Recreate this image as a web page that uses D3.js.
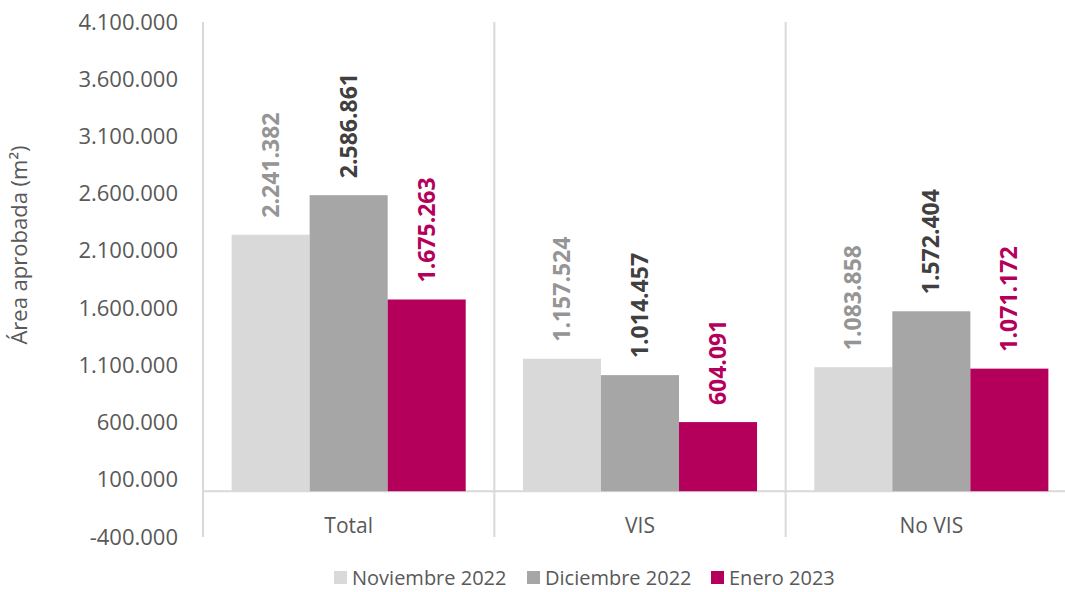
<!DOCTYPE html>
<html><head><meta charset="utf-8">
<script src="https://cdn.jsdelivr.net/npm/d3@7"></script>
<style>body{margin:0;background:#fff;} svg{display:block;}</style>
</head><body>
<svg id="chart" width="1065" height="592"></svg>
<script>
const categories = ["Total", "VIS", "No VIS"];
const seriesNames = ["Noviembre 2022", "Diciembre 2022", "Enero 2023"];
const noviembre2022 = [2241382, 1157524, 1083858];
const diciembre2022 = [2586861, 1014457, 1572404];
const enero2023 = [1675263, 604091, 1071172];
const yTicks = [-400000, 100000, 600000, 1100000, 1600000, 2100000, 2600000, 3100000, 3600000, 4100000];
const yTitle = "Área aprobada (m²)";

const seriesValues = [noviembre2022, diciembre2022, enero2023];
const barColors = ["#d9d9d9", "#a6a6a6", "#b5005b"];
const labelColors = ["#959595", "#404040", "#b5005b"];

const svg = d3.select("#chart");
const font = "'Open Sans', sans-serif";
const fmt = v => d3.format(",")(v).replace(/,/g, ".").replace("\u2212", "-");

const x0 = d3.scaleBand().domain(categories).range([203, 1077]).paddingInner(0).paddingOuter(0);
const x1 = d3.scaleBand().domain(seriesNames).range([0, x0.bandwidth()]).paddingInner(0).paddingOuter(0.367);
const y = d3.scaleLinear().domain([-400000, 4100000]).range([537, 22]);

// vertical separators
const seps = [203, ...categories.slice(1).map(c => x0(c))];
svg.selectAll("line.sep").data(seps).join("line")
  .attr("x1", d => d).attr("x2", d => d).attr("y1", y(4100000)).attr("y2", y(-400000))
  .attr("stroke", "#d9d9d9").attr("stroke-width", 2);

// baseline
svg.append("line").attr("x1", 203).attr("x2", 1077).attr("y1", y(0)).attr("y2", y(0))
  .attr("stroke", "#d9d9d9").attr("stroke-width", 2);

// y axis labels
const yAxis = d3.axisLeft(y).tickValues(yTicks).tickFormat(fmt).tickSize(0).tickPadding(0);
const ga = svg.append("g").attr("transform", "translate(178,0)").call(yAxis);
ga.select(".domain").remove();
ga.selectAll("text").attr("font-family", font).attr("font-size", 22).attr("fill", "#595959");

// bars
const data = [];
categories.forEach((c, i) => seriesNames.forEach((s, j) => data.push({c, s, j, v: seriesValues[j][i]})));
svg.selectAll("rect.bar").data(data).join("rect")
  .attr("x", d => x0(d.c) + x1(d.s)).attr("width", x1.bandwidth())
  .attr("y", d => y(d.v)).attr("height", d => y(0) - y(d.v))
  .attr("fill", d => barColors[d.j]);

// value labels
svg.selectAll("text.val").data(data).join("text")
  .attr("transform", d => `translate(${x0(d.c) + x1(d.s) + x1.bandwidth()/2 + 8},${y(d.v) - 17}) rotate(-90)`)
  .attr("font-family", font).attr("font-size", 23).attr("font-weight", "bold")
  .attr("fill", d => labelColors[d.j]).text(d => fmt(d.v));

// category labels
svg.selectAll("text.cat").data(categories).join("text")
  .attr("x", d => x0(d) + x0.bandwidth()/2).attr("y", 533)
  .attr("text-anchor", "middle").attr("font-family", font).attr("font-size", 21)
  .attr("fill", "#595959").text(d => d);

// y title
svg.append("text").attr("transform", "translate(27,245) rotate(-90)")
  .attr("text-anchor", "middle").attr("font-family", font).attr("font-size", 22)
  .attr("fill", "#595959").text(yTitle);

// legend
const legX = [334, 527, 711];
const lg = svg.selectAll("g.leg").data(seriesNames).join("g")
  .attr("transform", (d, i) => `translate(${legX[i]},571)`);
lg.append("rect").attr("width", 13).attr("height", 13).attr("fill", (d, i) => barColors[i]);
lg.append("text").attr("x", 18).attr("y", 14).attr("font-family", font).attr("font-size", 20)
  .attr("fill", "#595959").text(d => d);
</script>
</body></html>
